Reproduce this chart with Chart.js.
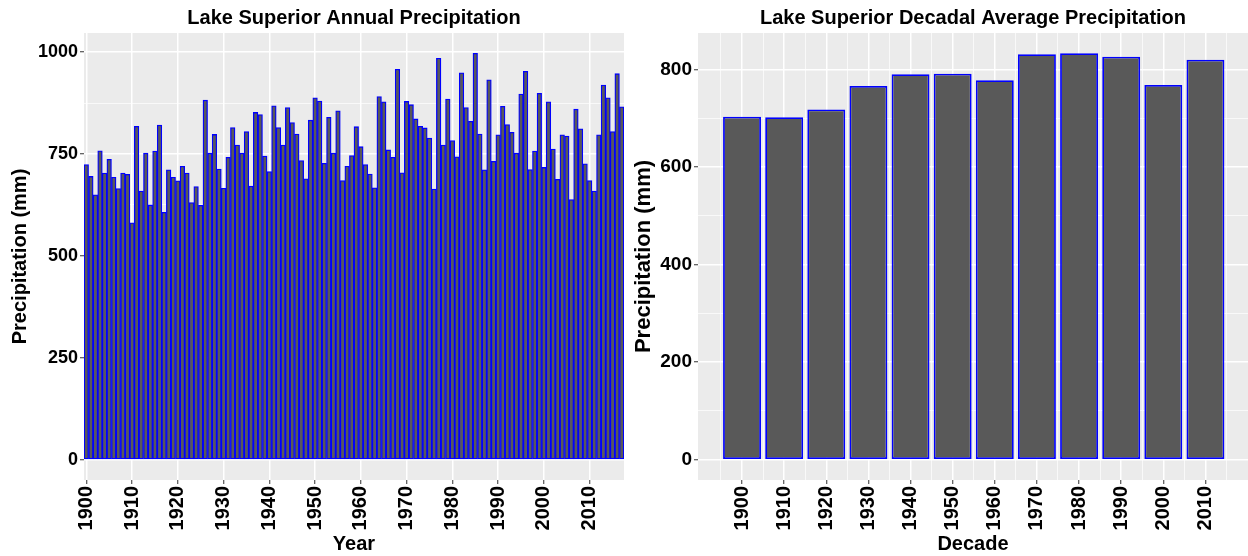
<!DOCTYPE html>
<html>
<head>
<meta charset="utf-8">
<script src="https://cdn.jsdelivr.net/npm/chart.js@4"></script>
<style>
  html, body { margin: 0; padding: 0; background: #ffffff; }
  #wrap { position: relative; width: 1248px; height: 556px; overflow: hidden; }
  .pane { position: absolute; top: 0; height: 556px; overflow: hidden; }
  #paneA { left: 0; width: 630px; }
  #paneB { left: 630px; width: 618px; }
</style>
</head>
<body>
<div id="wrap">
  <div class="pane" id="paneA"><canvas id="annual" width="630" height="556"></canvas></div>
  <div class="pane" id="paneB"><canvas id="decadal" width="618" height="556"></canvas></div>
</div>
<script>
// Lake Superior precipitation (mm), one value per year
const years = [];
for (let y = 1900; y <= 2017; y++) years.push(y);
const annualPrecip = [
  724, 695, 650, 758, 703, 737, 693, 665, 703, 700,
  581, 818, 659, 752, 625, 757, 821, 607, 711, 693,
  684, 720, 703, 631, 670, 624, 882, 752, 798, 713,
  666, 742, 815, 772, 752, 805, 671, 852, 847, 745,
  707, 868, 815, 772, 864, 827, 799, 734, 689, 833,
  888, 880, 727, 840, 752, 856, 685, 720, 746, 817,
  768, 724, 701, 667, 891, 878, 760, 742, 958, 704,
  879, 871, 836, 818, 814, 789, 664, 985, 772, 885,
  783, 743, 949, 864, 830, 997, 799, 711, 932, 732,
  797, 867, 822, 803, 752, 897, 953, 712, 757, 899,
  717, 878, 762, 688, 797, 794, 638, 860, 812, 726,
  685, 659, 797, 919, 888, 805, 947, 866
];

// Decadal averages (mm)
const decades = [1900, 1910, 1920, 1930, 1940, 1950, 1960, 1970, 1980, 1990, 2000, 2010];
const decadalPrecip = [703, 702, 718, 766, 790, 791, 778, 831, 833, 826, 768, 820];

// Axis breaks
const annualYTicks = [0, 125, 250, 375, 500, 625, 750, 875, 1000];
const decadalYTicks = [0, 100, 200, 300, 400, 500, 600, 700, 800];
const decadalXTicks = [1895, 1900, 1905, 1910, 1915, 1920, 1925, 1930, 1935, 1940, 1945, 1950,
  1955, 1960, 1965, 1970, 1975, 1980, 1985, 1990, 1995, 2000, 2005, 2010, 2015];

const FONT = "'Liberation Sans', Arial, sans-serif";
const PANEL = '#EBEBEB';
const GRID = '#FFFFFF';
const TICKMARK = '#333333';
const NONE = 'rgba(0,0,0,0)';
const BAR_FILL = '#595959';
const BAR_EDGE = '#0000FF';

Chart.defaults.font.family = FONT;
Chart.defaults.color = '#000000';

// grey panel behind the plotting area
const panelBg = {
  id: 'panelBg',
  beforeDraw(chart) {
    const { ctx, chartArea: a } = chart;
    ctx.save();
    ctx.fillStyle = PANEL;
    ctx.fillRect(a.left, a.top, a.right - a.left, a.bottom - a.top);
    ctx.restore();
  }
};

function titleOpts(text) {
  return {
    display: true, text: text, fullSize: false, color: '#000',
    font: { size: 20, weight: 'bold', lineHeight: 1.2 },
    padding: { top: 6, bottom: 3 }
  };
}

// keep rotated end labels from shrinking the panel
function fixX(height) {
  return function (s) {
    s.height = height;
    s.paddingLeft = 0;
    s.paddingRight = 0;
  };
}
function fixY(width) {
  return function (s) {
    s.width = width;
    s.paddingTop = 0;
    s.paddingBottom = 0;
  };
}

// ---------- annual chart ----------
new Chart(document.getElementById('annual'), {
  type: 'bar',
  data: {
    labels: years,
    datasets: [{
      data: annualPrecip,
      backgroundColor: BAR_FILL,
      borderColor: BAR_EDGE,
      borderWidth: 1.3,
      borderSkipped: false,
      barPercentage: 1,
      categoryPercentage: 1
    }]
  },
  options: {
    responsive: false,
    animation: false,
    layout: { padding: { left: 0, right: 6, top: 0, bottom: 0 } },
    plugins: {
      legend: { display: false },
      tooltip: { enabled: false },
      title: titleOpts('Lake Superior Annual Precipitation')
    },
    scales: {
      x: {
        type: 'category',
        afterFit: fixX(76),
        border: { display: false },
        grid: {
          offset: false,
          drawTicks: true,
          tickLength: 4,
          color: (c) => (years[c.index] % 10 === 0 ? GRID : NONE),
          tickColor: (c) => (years[c.index] % 10 === 0 ? TICKMARK : NONE),
          lineWidth: 1.5,
          tickWidth: 1
        },
        ticks: {
          autoSkip: false,
          minRotation: 90,
          maxRotation: 90,
          padding: 2,
          color: '#000',
          font: { size: 20, weight: 'bold' },
          callback: (v, i) => (years[i] % 10 === 0 ? String(years[i]) : '')
        },
        title: {
          display: true, text: 'Year', color: '#000',
          font: { size: 20, weight: 'bold', lineHeight: 1.2 },
          padding: { top: 0, bottom: 0 }
        }
      },
      y: {
        type: 'linear',
        min: -49.85,
        max: 1046.85,
        afterFit: fixY(84),
        afterBuildTicks(s) { s.ticks = annualYTicks.map((v) => ({ value: v })); },
        border: { display: false },
        grid: {
          drawTicks: true,
          tickLength: 4,
          color: GRID,
          lineWidth: (c) => (c.tick && c.tick.value % 250 === 0 ? 1.5 : 0.7),
          tickColor: (c) => (c.tick && c.tick.value % 250 === 0 ? TICKMARK : NONE),
          tickWidth: 1
        },
        ticks: {
          autoSkip: false,
          padding: 2,
          color: '#000',
          font: { size: 18, weight: 'bold' },
          callback: (v) => (v % 250 === 0 ? String(v) : '')
        },
        title: {
          display: true, text: 'Precipitation (mm)', color: '#000',
          font: { size: 20, weight: 'bold', lineHeight: 1.2 },
          padding: { top: 8, bottom: 0 }
        }
      }
    }
  },
  plugins: [panelBg]
});

// ---------- decadal chart ----------
// x ticks every 5 years set the bar ruler, so 1.8 of that spacing gives 9-year-wide bars
new Chart(document.getElementById('decadal'), {
  type: 'bar',
  data: {
    datasets: [{
      data: decades.map((d, i) => ({ x: d, y: decadalPrecip[i] })),
      backgroundColor: BAR_FILL,
      borderColor: BAR_EDGE,
      borderWidth: 1.8,
      borderSkipped: false,
      barPercentage: 1.8,
      categoryPercentage: 1
    }]
  },
  options: {
    responsive: false,
    animation: false,
    layout: { padding: { left: 0, right: 0, top: 0, bottom: 0 } },
    plugins: {
      legend: { display: false },
      tooltip: { enabled: false },
      title: titleOpts('Lake Superior Decadal Average Precipitation')
    },
    scales: {
      x: {
        type: 'linear',
        offset: false,
        min: 1889.55,
        max: 2020.1,
        afterFit: fixX(76),
        afterBuildTicks(s) { s.ticks = decadalXTicks.map((v) => ({ value: v })); },
        border: { display: false },
        grid: {
          offset: false,
          drawTicks: true,
          tickLength: 4,
          color: GRID,
          lineWidth: (c) => (c.tick && c.tick.value % 10 === 0 ? 1.5 : 0.7),
          tickColor: (c) => (c.tick && c.tick.value % 10 === 0 ? TICKMARK : NONE),
          tickWidth: 1
        },
        ticks: {
          autoSkip: false,
          minRotation: 90,
          maxRotation: 90,
          padding: 2,
          color: '#000',
          font: { size: 20, weight: 'bold' },
          callback: (v) => (v % 10 === 0 ? String(v) : '')
        },
        title: {
          display: true, text: 'Decade', color: '#000',
          font: { size: 20, weight: 'bold', lineHeight: 1.2 },
          padding: { top: 0, bottom: 0 }
        }
      },
      y: {
        type: 'linear',
        min: -41.65,
        max: 874.65,
        afterFit: fixY(68),
        afterBuildTicks(s) { s.ticks = decadalYTicks.map((v) => ({ value: v })); },
        border: { display: false },
        grid: {
          drawTicks: true,
          tickLength: 4,
          color: GRID,
          lineWidth: (c) => (c.tick && c.tick.value % 200 === 0 ? 1.5 : 0.7),
          tickColor: (c) => (c.tick && c.tick.value % 200 === 0 ? TICKMARK : NONE),
          tickWidth: 1
        },
        ticks: {
          autoSkip: false,
          padding: 2,
          color: '#000',
          font: { size: 19, weight: 'bold' },
          callback: (v) => (v % 200 === 0 ? String(v) : '')
        },
        title: {
          display: true, text: 'Precipitation (mm)', color: '#000',
          font: { size: 22, weight: 'bold', lineHeight: 1.2 },
          padding: { top: 1, bottom: 0 }
        }
      }
    }
  },
  plugins: [panelBg]
});
</script>
</body>
</html>
